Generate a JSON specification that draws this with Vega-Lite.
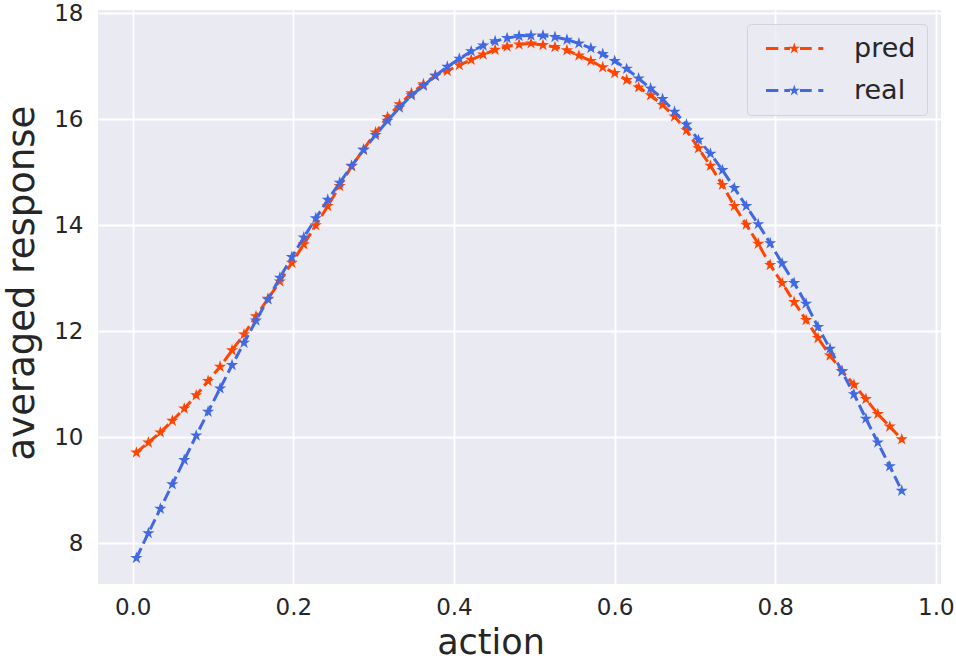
{
  "$schema": "https://vega.github.io/schema/vega-lite/v6.json",
  "autosize": "none",
  "width": 843,
  "height": 574,
  "padding": {"left": 98, "top": 10, "right": 15, "bottom": 77},
  "background": "white",
  "data": {
    "values": [
      {"x": 0.0046, "pred": 9.71, "real": 7.72},
      {"x": 0.0195, "pred": 9.90, "real": 8.19},
      {"x": 0.0344, "pred": 10.09, "real": 8.65},
      {"x": 0.0493, "pred": 10.31, "real": 9.11},
      {"x": 0.0642, "pred": 10.54, "real": 9.57},
      {"x": 0.0791, "pred": 10.79, "real": 10.03},
      {"x": 0.0939, "pred": 11.06, "real": 10.48},
      {"x": 0.1088, "pred": 11.33, "real": 10.92},
      {"x": 0.1237, "pred": 11.64, "real": 11.36},
      {"x": 0.1386, "pred": 11.94, "real": 11.78},
      {"x": 0.1535, "pred": 12.28, "real": 12.20},
      {"x": 0.1684, "pred": 12.61, "real": 12.60},
      {"x": 0.1833, "pred": 12.94, "real": 13.01},
      {"x": 0.1982, "pred": 13.29, "real": 13.40},
      {"x": 0.2131, "pred": 13.64, "real": 13.77},
      {"x": 0.2280, "pred": 14.00, "real": 14.13},
      {"x": 0.2429, "pred": 14.36, "real": 14.48},
      {"x": 0.2578, "pred": 14.74, "real": 14.80},
      {"x": 0.2726, "pred": 15.11, "real": 15.12},
      {"x": 0.2875, "pred": 15.43, "real": 15.42},
      {"x": 0.3024, "pred": 15.75, "real": 15.70},
      {"x": 0.3173, "pred": 16.04, "real": 15.97},
      {"x": 0.3322, "pred": 16.28, "real": 16.22},
      {"x": 0.3471, "pred": 16.49, "real": 16.45},
      {"x": 0.3620, "pred": 16.66, "real": 16.63},
      {"x": 0.3769, "pred": 16.82, "real": 16.82},
      {"x": 0.3918, "pred": 16.91, "real": 16.99},
      {"x": 0.4067, "pred": 17.02, "real": 17.14},
      {"x": 0.4215, "pred": 17.12, "real": 17.28},
      {"x": 0.4364, "pred": 17.22, "real": 17.39},
      {"x": 0.4513, "pred": 17.31, "real": 17.47},
      {"x": 0.4662, "pred": 17.37, "real": 17.53},
      {"x": 0.4811, "pred": 17.41, "real": 17.57},
      {"x": 0.4960, "pred": 17.43, "real": 17.58},
      {"x": 0.5109, "pred": 17.40, "real": 17.58},
      {"x": 0.5258, "pred": 17.36, "real": 17.55},
      {"x": 0.5407, "pred": 17.30, "real": 17.50},
      {"x": 0.5556, "pred": 17.20, "real": 17.43},
      {"x": 0.5705, "pred": 17.10, "real": 17.34},
      {"x": 0.5853, "pred": 16.98, "real": 17.23},
      {"x": 0.6002, "pred": 16.87, "real": 17.10},
      {"x": 0.6151, "pred": 16.74, "real": 16.95},
      {"x": 0.6300, "pred": 16.60, "real": 16.77},
      {"x": 0.6449, "pred": 16.45, "real": 16.58},
      {"x": 0.6598, "pred": 16.27, "real": 16.38},
      {"x": 0.6747, "pred": 16.05, "real": 16.14},
      {"x": 0.6896, "pred": 15.79, "real": 15.90},
      {"x": 0.7045, "pred": 15.45, "real": 15.61},
      {"x": 0.7194, "pred": 15.12, "real": 15.35},
      {"x": 0.7343, "pred": 14.76, "real": 15.04},
      {"x": 0.7492, "pred": 14.36, "real": 14.70},
      {"x": 0.7640, "pred": 14.01, "real": 14.36},
      {"x": 0.7789, "pred": 13.65, "real": 14.02},
      {"x": 0.7938, "pred": 13.25, "real": 13.66},
      {"x": 0.8087, "pred": 12.91, "real": 13.28},
      {"x": 0.8236, "pred": 12.55, "real": 12.91},
      {"x": 0.8385, "pred": 12.21, "real": 12.52},
      {"x": 0.8534, "pred": 11.87, "real": 12.08},
      {"x": 0.8683, "pred": 11.54, "real": 11.67},
      {"x": 0.8832, "pred": 11.25, "real": 11.24},
      {"x": 0.8981, "pred": 10.99, "real": 10.81},
      {"x": 0.9130, "pred": 10.72, "real": 10.35},
      {"x": 0.9278, "pred": 10.44, "real": 9.90},
      {"x": 0.9427, "pred": 10.20, "real": 9.45},
      {"x": 0.9576, "pred": 9.96, "real": 8.99}
    ]
  },
  "transform": [
    {"fold": ["pred", "real"], "as": ["series", "y"]}
  ],
  "encoding": {
    "x": {
      "field": "x", "type": "quantitative",
      "scale": {"domain": [-0.0432, 1.0065], "nice": false, "zero": false},
      "axis": {
        "title": "action", "values": [0, 0.2, 0.4, 0.6, 0.8, 1.0], "format": ".1f",
        "titleX": 392.5, "titleY": 69, "titleFontSize": 35, "titleBaseline": "alphabetic", "titleAnchor": "middle", "titleAlign": "center"
      }
    },
    "y": {
      "field": "y", "type": "quantitative",
      "scale": {"domain": [7.23, 18.06], "nice": false, "zero": false},
      "axis": {
        "title": "averaged response", "values": [8, 10, 12, 14, 16, 18], "format": "d",
        "titleX": -65, "titleY": 272.5, "titleAngle": -90, "titleBaseline": "alphabetic", "titleAlign": "center"
      }
    }
  },
  "layer": [
    {
      "transform": [{"filter": "datum.series === 'pred'"}],
      "mark": {"type": "line", "color": "#FF4500", "strokeWidth": 3, "strokeDash": [11.1, 4.8]},
      "encoding": {}
    },
    {
      "transform": [{"filter": "datum.series === 'pred'"}],
      "mark": {
        "type": "point", "filled": true, "opacity": 1, "size": 165, "strokeWidth": 0,
        "shape": "M0,-1L0.2245,-0.309L0.9511,-0.309L0.3633,0.118L0.5878,0.809L0,0.382L-0.5878,0.809L-0.3633,0.118L-0.9511,-0.309L-0.2245,-0.309Z"
      },
      "encoding": {
        "color": {
          "field": "series", "type": "nominal",
          "scale": {"domain": ["pred", "real"], "range": ["#FF4500", "#4169E1"]},
          "legend": {
            "title": null,
            "orient": "top-right",
            "offset": 14,
            "padding": 11,
            "rowPadding": 14,
            "labelOffset": 69,
            "labelFont": "DejaVu Sans",
            "labelFontSize": 27,
            "labelColor": "#262626",
            "symbolSize": 121,
            "symbolOpacity": 1,
            "symbolStrokeWidth": 0,
            "fillColor": "rgba(234,234,242,0.8)",
            "strokeColor": "#d3d3db",
            "cornerRadius": 4,
            "symbolType": "M-1,-0.27H1.236V0.27H-1ZM2.327,-0.27H3.364V0.27H2.327ZM4.145,-1.1L4.392,-0.34L5.191,-0.34L4.545,0.13L4.792,0.89L4.145,0.42L3.498,0.89L3.745,0.13L3.099,-0.34L3.898,-0.34ZM5.18,-0.27H7.31V0.27H5.18ZM8.51,-0.27H9.42V0.27H8.51Z",
            "encode": {
              "symbols": {
                "update": {
                  "shape": {"value": "M-1,-0.27H1.236V0.27H-1ZM2.327,-0.27H3.364V0.27H2.327ZM4.145,-1.1L4.392,-0.34L5.191,-0.34L4.545,0.13L4.792,0.89L4.145,0.42L3.498,0.89L3.745,0.13L3.099,-0.34L3.898,-0.34ZM5.18,-0.27H7.31V0.27H5.18ZM8.51,-0.27H9.42V0.27H8.51Z"},
                  "size": {"value": 121},
                  "opacity": {"value": 1},
                  "strokeWidth": {"value": 0}
                }
              }
            }
          }
        }
      }
    },
    {
      "transform": [{"filter": "datum.series === 'real'"}],
      "mark": {"type": "line", "color": "#4169E1", "strokeWidth": 3, "strokeDash": [11.1, 4.8]},
      "encoding": {}
    },
    {
      "transform": [{"filter": "datum.series === 'real'"}],
      "mark": {
        "type": "point", "filled": true, "opacity": 1, "size": 165, "strokeWidth": 0,
        "shape": "M0,-1L0.2245,-0.309L0.9511,-0.309L0.3633,0.118L0.5878,0.809L0,0.382L-0.5878,0.809L-0.3633,0.118L-0.9511,-0.309L-0.2245,-0.309Z"
      },
      "encoding": {
        "color": {"field": "series", "type": "nominal"}
      }
    }
  ],
  "config": {
    "view": {"fill": "#EAEAF2", "stroke": null},
    "font": "DejaVu Sans",
    "axis": {
      "domain": false,
      "ticks": false,
      "grid": true,
      "gridColor": "#ffffff",
      "gridWidth": 1.8,
      "gridOpacity": 1,
      "labelFont": "DejaVu Sans",
      "labelFontSize": 23,
      "labelColor": "#262626",
      "titleFont": "DejaVu Sans",
      "titleFontSize": 37,
      "titleFontWeight": "normal",
      "titleColor": "#262626"
    },
    "axisX": {"labelPadding": 12},
    "axisY": {"labelPadding": 15}
  }
}
